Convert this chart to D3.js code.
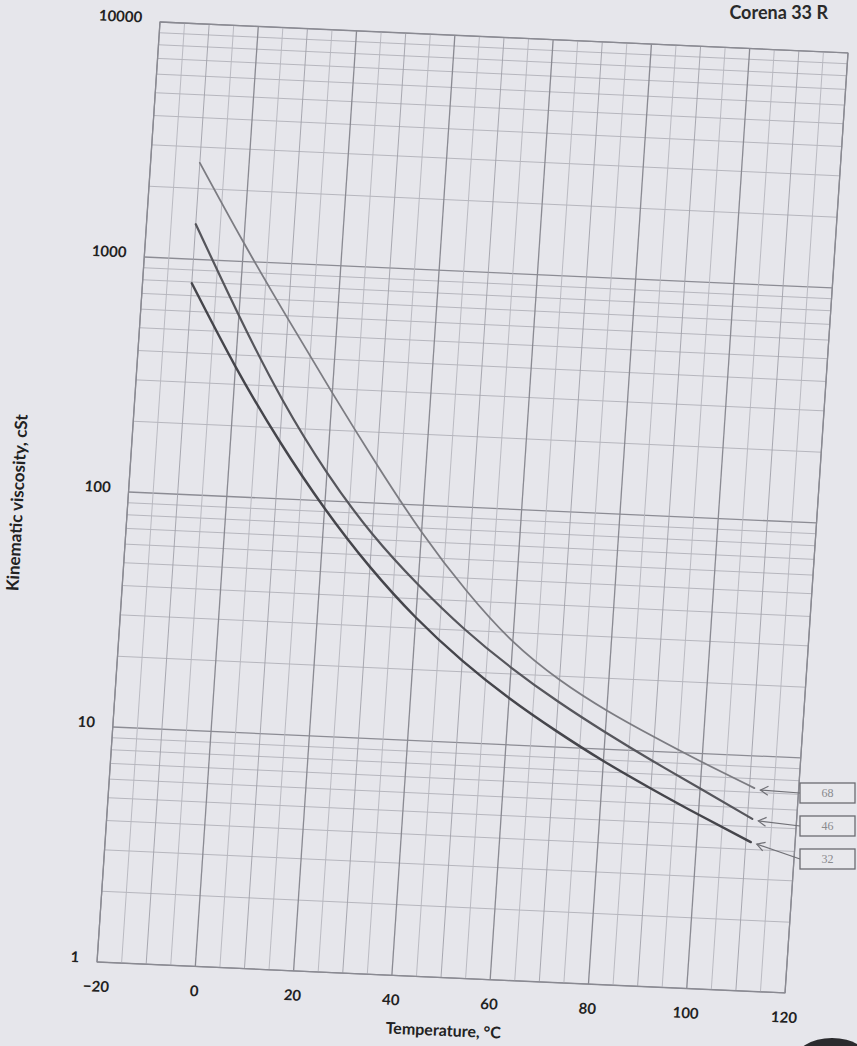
<!DOCTYPE html>
<html>
<head>
<meta charset="utf-8">
<script src="https://cdn.jsdelivr.net/npm/d3@7"></script>
<style>
  html, body { margin: 0; padding: 0; background: #e6e6eb; }
  svg { display: block; }
  .tick-label { font-family: Lato, 'DejaVu Sans', sans-serif; font-weight: bold; font-size: 15px; fill: #222; }
  .axis-title { font-family: Lato, 'DejaVu Sans', sans-serif; font-weight: bold; font-size: 16px; fill: #222; }
  .box-label { font-family: 'Liberation Serif', serif; font-size: 12px; fill: #8a8a8e; }
</style>
</head>
<body>
<svg id="chart" width="857" height="1046"></svg>
<script>
'use strict';

// values (temperature in °C, viscosity in cSt)
var temps = [-10, 0, 10, 20, 30, 40, 50, 60, 70, 80, 90, 100, 111];
var vg68 = [2570, 1200, 582, 288, 146, 77, 44, 27.5, 19.3, 14.6, 11.5, 9.2, 7.3];
var vg46 = [1410, 589, 263, 132, 74, 46, 30.4, 21.3, 15.6, 11.8, 9.1, 7.1, 5.4];
var vg32 = [790, 357, 175, 93, 53.5, 33.3, 22.3, 15.8, 11.7, 8.9, 6.95, 5.5, 4.3];
var grades = ['68', '46', '32'];
var xTicks = [-20, 0, 20, 40, 60, 80, 100, 120];
var yTicks = [1, 10, 100, 1000, 10000];

var plotW = 688, plotH = 940;
// the scan is a little tilted: affine matrix for the plot frame
var M = [1, 0.045, -0.067, 1, 160, 22];

function project(px, py) {
    return [M[0]*px + M[2]*py + M[4], M[1]*px + M[3]*py + M[5]];
}

var svg = d3.select('#chart');

var x = d3.scaleLinear().domain([-20, 120]).range([0, plotW]);
var y = d3.scaleLog().domain([1, 10000]).range([plotH, 0]);

// title at the top edge
svg.append('text')
    .attr('x', 828).attr('y', 19)
    .attr('text-anchor', 'end')
    .style('font-family', 'Lato, sans-serif')
    .style('font-weight', 'bold')
    .style('font-size', '18px')
    .style('fill', '#2a2a2a')
    .text('Corena 33 R');

var g = svg.append('g')
    .attr('transform', 'matrix(' + M.join(',') + ')');

// grid
var hLines = [];
[1, 10, 100, 1000].forEach(function(dec) {
    d3.range(1, 10).forEach(function(k) { hLines.push(dec * k); });
});
hLines.push(10000);
var vLines = d3.range(-20, 121, 5);

g.append('g').selectAll('line.h').data(hLines).enter()
    .append('line')
        .attr('x1', 0).attr('x2', plotW)
        .attr('y1', function(d) { return y(d); })
        .attr('y2', function(d) { return y(d); })
        .style('stroke', function(d) { return yTicks.indexOf(d) >= 0 ? '#8c8c94' : '#b2b2ba'; })
        .style('stroke-width', function(d) { return yTicks.indexOf(d) >= 0 ? 1.3 : 0.9; });

g.append('g').selectAll('line.v').data(vLines).enter()
    .append('line')
        .attr('y1', 0).attr('y2', plotH)
        .attr('x1', function(d) { return x(d); })
        .attr('x2', function(d) { return x(d); })
        .style('stroke', function(d) {
            if (d % 20 === 0) return '#8a8a92';
            if (d % 10 === 0) return '#a2a2aa';
            return '#b6b6be';
        })
        .style('stroke-width', function(d) { return d % 20 === 0 ? 1.3 : 0.9; });

g.append('rect')
    .attr('x', 0).attr('y', 0)
    .attr('width', plotW).attr('height', plotH)
    .style('fill', 'none')
    .style('stroke', '#8a8a92')
    .style('stroke-width', 1.2);

// axes (labels only, grid drawn above)
var yAxis = g.append('g')
    .call(d3.axisLeft(y).tickValues(yTicks).tickFormat(d3.format('d')).tickSize(0).tickPadding(18));
yAxis.select('.domain').remove();
yAxis.selectAll('text').attr('class', 'tick-label').attr('dy', '0.05em');

var xAxis = g.append('g')
    .attr('transform', 'translate(0,' + plotH + ')')
    .call(d3.axisBottom(x).tickValues(xTicks).tickSize(0).tickPadding(19));
xAxis.select('.domain').remove();
xAxis.selectAll('text').attr('class', 'tick-label');

// curves
var series = [
    {grade: grades[0], values: vg68, color: '#7c7c82', width: 1.8},
    {grade: grades[1], values: vg46, color: '#56565c', width: 2.2},
    {grade: grades[2], values: vg32, color: '#45454b', width: 2.4}
];

var line = d3.line()
    .x(function(d) { return x(d.t); })
    .y(function(d) { return y(d.v); })
    .curve(d3.curveNatural);

series.forEach(function(s) {
    s.points = temps.map(function(t, i) { return {t: t, v: s.values[i]}; });
    g.append('path')
        .datum(s.points)
        .attr('d', line)
        .style('fill', 'none')
        .style('stroke', s.color)
        .style('stroke-width', s.width)
        .style('stroke-linecap', 'round');
});

// labelled boxes with arrows pointing at the curve ends
var boxX = 800, boxW = 55, boxH = 20;
var boxY = [793, 826, 859];
var ann = svg.append('g');
series.forEach(function(s, i) {
    var last = s.points[s.points.length - 1];
    var tip = project(x(last.t), y(last.v));
    tip = [tip[0] + 6, tip[1] + 2];
    var start = [boxX, boxY[i]];
    var ang = Math.atan2(start[1] - tip[1], start[0] - tip[0]);
    var len = 9, spread = Math.PI / 6;
    ann.append('line')
        .attr('x1', start[0]).attr('y1', start[1])
        .attr('x2', tip[0]).attr('y2', tip[1])
        .style('stroke', '#707076').style('stroke-width', 1.2);
    ann.append('path')
        .attr('d', 'M' + (tip[0] + len*Math.cos(ang - spread)) + ',' + (tip[1] + len*Math.sin(ang - spread)) +
                   'L' + tip[0] + ',' + tip[1] +
                   'L' + (tip[0] + len*Math.cos(ang + spread)) + ',' + (tip[1] + len*Math.sin(ang + spread)))
        .style('fill', 'none').style('stroke', '#707076').style('stroke-width', 1.2);
    ann.append('rect')
        .attr('x', boxX).attr('y', boxY[i] - boxH/2)
        .attr('width', boxW).attr('height', boxH)
        .style('fill', '#e8e8ec')
        .style('stroke', '#6c6c72')
        .style('stroke-width', 1.3);
    ann.append('text')
        .attr('class', 'box-label')
        .attr('x', boxX + boxW/2).attr('y', boxY[i] + 4)
        .attr('text-anchor', 'middle')
        .text(s.grade);
});

// axis titles
svg.append('text')
    .attr('class', 'axis-title')
    .attr('transform', 'translate(23,503) rotate(-87)')
    .attr('text-anchor', 'middle')
    .style('font-size', '17px')
    .text('Kinematic viscosity, cSt');

svg.append('text')
    .attr('class', 'axis-title')
    .attr('transform', 'translate(443,1036) rotate(2.5)')
    .attr('text-anchor', 'middle')
    .text('Temperature, °C');

// dark page artefact at the bottom right corner
svg.append('ellipse')
    .attr('cx', 832).attr('cy', 1062)
    .attr('rx', 38).attr('ry', 24)
    .style('fill', '#2b2b2e');
</script>
</body>
</html>
